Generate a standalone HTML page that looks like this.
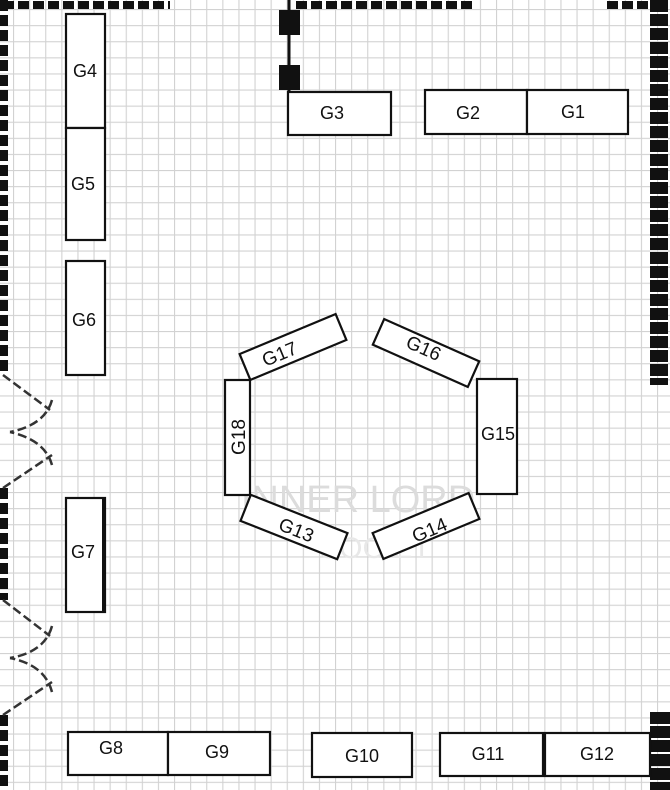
<!DOCTYPE html>
<html><head><meta charset="utf-8"><style>
html,body{margin:0;padding:0;background:#fff;}
svg{display:block;}
text{font-family:"Liberation Sans",sans-serif;font-size:18px;fill:#111;}
.r{font-size:19px;}
</style></head><body>
<svg width="670" height="790" viewBox="0 0 670 790" xmlns="http://www.w3.org/2000/svg">
<defs>
<pattern id="g" x="13" y="9" width="16.1" height="16.1" patternUnits="userSpaceOnUse">
<path d="M0 0H16.1M0 0V16.1" stroke="#d2d2d2" stroke-width="2.2" fill="none"/>
</pattern>
</defs>
<rect width="670" height="790" fill="#fff"/>
<rect width="670" height="790" fill="url(#g)"/>

<text x="358" y="512" text-anchor="middle" style="font-size:38px;fill:#dcdcdc">INNER LORD</text>
<text x="375" y="558" text-anchor="middle" style="font-size:30px;fill:#e8e8e8">SOCIET</text>

<g stroke="#111" fill="none" stroke-dasharray="11 4">
<line x1="3" y1="5" x2="170" y2="5" stroke-width="8"/>
<line x1="4" y1="0" x2="4" y2="375" stroke-width="8"/>
<line x1="4" y1="488" x2="4" y2="600" stroke-width="8"/>
<line x1="4" y1="715" x2="4" y2="790" stroke-width="8"/>
<line x1="296" y1="5" x2="473" y2="5" stroke-width="8"/>
<line x1="607" y1="5" x2="660" y2="5" stroke-width="8"/>
<line x1="659" y1="0" x2="659" y2="385" stroke-width="18" stroke-dasharray="12 2"/>
<line x1="660" y1="712" x2="660" y2="790" stroke-width="20" stroke-dasharray="12 2"/>
</g>
<line x1="289" y1="0" x2="289" y2="92" stroke="#111" stroke-width="3"/>
<rect x="279" y="10" width="21" height="25" fill="#111"/>
<rect x="279" y="65" width="21" height="25" fill="#111"/>

<g stroke="#333" fill="none" stroke-width="2.5" stroke-dasharray="9 4">
<path d="M3 375 L50 410"/>
<path d="M52 400 Q45 425 10 432"/>
<path d="M3 488 L52 455"/>
<path d="M52 465 Q45 440 10 432"/>
<path d="M3 600 L50 636"/>
<path d="M52 626 Q45 652 10 658"/>
<path d="M3 715 L52 682"/>
<path d="M52 692 Q45 665 10 658"/>
</g>

<g fill="#fff" stroke="#111" stroke-width="2.2">
<rect x="66" y="14" width="39" height="114"/>
<rect x="66" y="128" width="39" height="112"/>
<rect x="66" y="261" width="39" height="114"/>
<rect x="66" y="498" width="39" height="114"/>
<rect x="288" y="92" width="103" height="43"/>
<rect x="425" y="90" width="102" height="44"/>
<rect x="527" y="90" width="101" height="44"/>
<rect x="68" y="732" width="100" height="43"/>
<rect x="168" y="732" width="102" height="43"/>
<rect x="312" y="733" width="100" height="44"/>
<rect x="440" y="733" width="103" height="43"/>
<rect x="545" y="733" width="105" height="43"/>
<rect x="225" y="380" width="25" height="115"/>
<rect x="477" y="379" width="40" height="115"/>
<rect x="-52" y="-14" width="104" height="28" transform="translate(293,347) rotate(-22.6)"/>
<rect x="-52" y="-14" width="104" height="28" transform="translate(426,353) rotate(24)"/>
<rect x="-52" y="-14" width="104" height="28" transform="translate(294,527) rotate(21.6)"/>
<rect x="-52" y="-14" width="104" height="28" transform="translate(426,526) rotate(-22.6)"/>
</g>
<line x1="104" y1="498" x2="104" y2="612" stroke="#111" stroke-width="4"/>

<g text-anchor="middle">
<text x="85" y="77">G4</text>
<text x="83" y="190">G5</text>
<text x="84" y="326">G6</text>
<text x="83" y="558">G7</text>
<text x="332" y="119">G3</text>
<text x="468" y="119">G2</text>
<text x="573" y="118">G1</text>
<text x="111" y="754">G8</text>
<text x="217" y="758">G9</text>
<text x="362" y="762">G10</text>
<text x="488" y="760">G11</text>
<text x="597" y="760">G12</text>
<text x="498" y="440">G15</text>
<text class="r" transform="translate(245,437) rotate(-90)">G18</text>
<text class="r" transform="translate(282,360) rotate(-22.6)">G17</text>
<text class="r" transform="translate(421,354) rotate(24)">G16</text>
<text class="r" transform="translate(294,536) rotate(21.6)">G13</text>
<text class="r" transform="translate(432,536) rotate(-22.6)">G14</text>
</g>
</svg>
</body></html>
